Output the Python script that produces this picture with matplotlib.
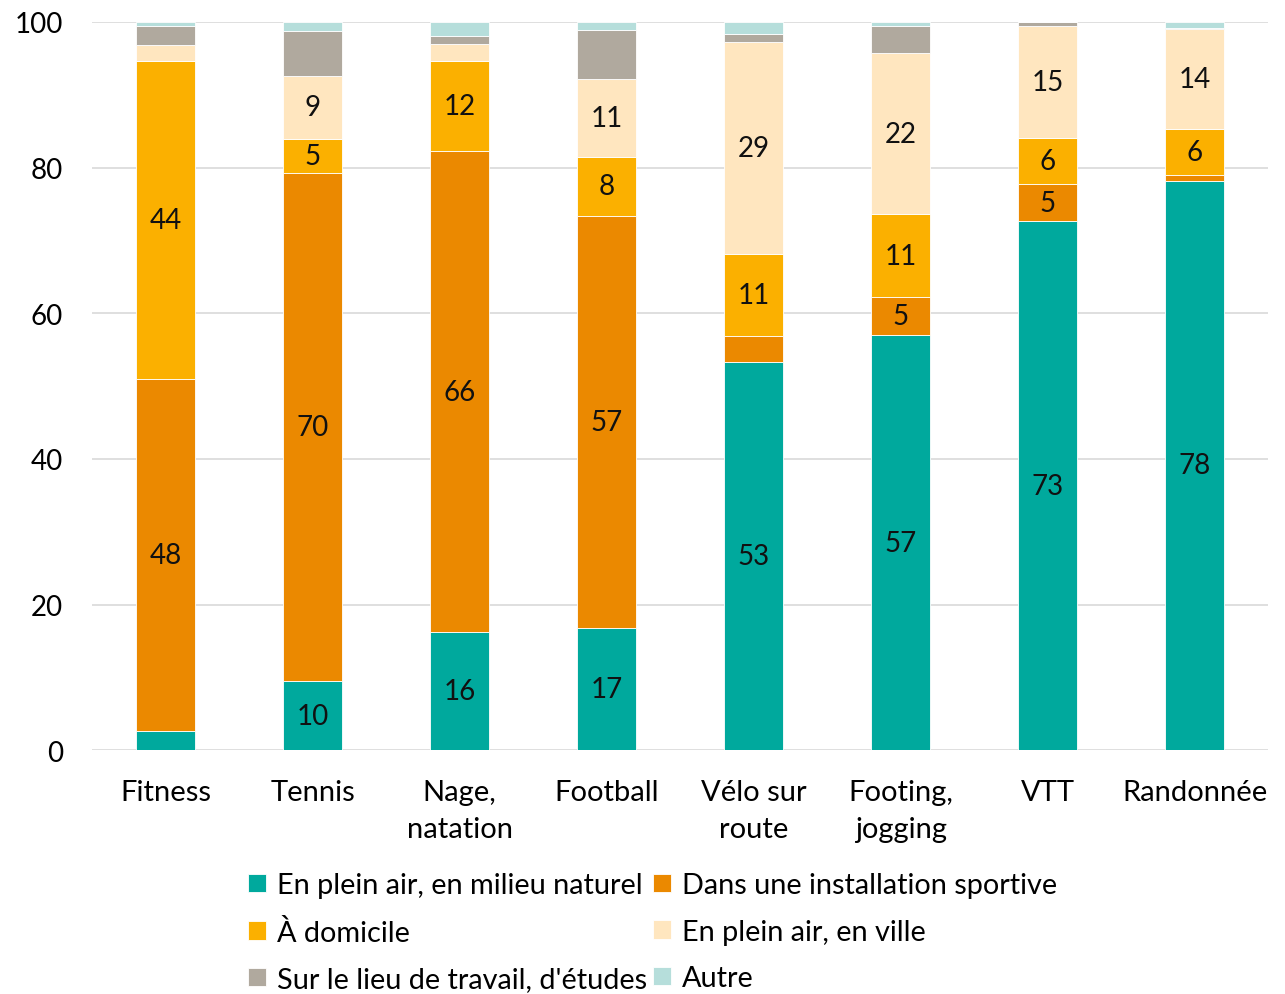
import numpy as np
import matplotlib
matplotlib.use("Agg")
import matplotlib.pyplot as plt

plt.rcParams['font.family'] = ['Lato', 'DejaVu Sans']

categories = ["Fitness", "Tennis", "Nage,\nnatation", "Football",
              "Vélo sur\nroute", "Footing,\njogging", "VTT", "Randonnée"]

series_names = ["En plein air, en milieu naturel", "Dans une installation sportive",
                "À domicile", "En plein air, en ville",
                "Sur le lieu de travail, d'études", "Autre"]

nature = [2.6, 9.5, 16.2, 16.8, 53.3, 57.0, 72.6, 78.2]
installation = [48.4, 69.8, 66.1, 56.6, 3.6, 5.2, 5.2, 0.8]
domicile = [43.6, 4.6, 12.3, 8.1, 11.2, 11.4, 6.2, 6.3]
ville = [2.2, 8.7, 2.4, 10.7, 29.1, 22.1, 15.4, 13.7]
travail = [2.6, 6.1, 1.0, 6.7, 1.1, 3.8, 0.6, 0.2]
autre = [0.6, 1.3, 2.0, 1.1, 1.7, 0.5, 0.0, 0.8]

colors = ["#00A99D", "#EB8900", "#FBB000", "#FFE6BF", "#B0A99E", "#B6DEDB"]
labelled = [True, True, True, True, False, False]

fig = plt.figure(figsize=(12.85, 9.95), dpi=100)
ax = fig.add_axes([0.0716, 0.245, 0.9154, 0.732])

x = np.arange(len(categories))
bottom = np.zeros(len(categories))
handles = []
for vals, name, col, lab in zip([nature, installation, domicile, ville, travail, autre],
                                series_names, colors, labelled):
    vals = np.array(vals)
    bars = ax.bar(x, vals, 0.4, bottom=bottom, color=col, label=name,
                  edgecolor="white", linewidth=0.6, zorder=3)
    handles.append(bars)
    if lab:
        for xi, b, v in zip(x, bottom, vals):
            if v >= 4.5:
                ax.text(xi, b + v / 2, f"{v:.0f}", ha="center", va="center",
                        fontsize=20, color="#111111", zorder=4)
    bottom += vals

ax.set_xlim(-0.5, len(categories) - 0.5)
ax.set_ylim(0, 100)
ax.set_yticks(range(0, 101, 20))
ax.yaxis.grid(True, color="#D9D9D9", linewidth=1.2, zorder=0)
for s in ax.spines.values():
    s.set_visible(False)
ax.tick_params(axis="y", length=0, labelsize=20, pad=21)
ax.tick_params(axis="x", length=0, labelsize=21, pad=21)
ax.set_xticks(x)
ax.set_xticklabels(categories, linespacing=1.5)

# legend filled row by row, like the original
order = [0, 2, 4, 1, 3, 5]
ax.legend([handles[i] for i in order], [series_names[i] for i in order],
          loc="upper left", bbox_to_anchor=(0.133, -0.167), ncol=2, frameon=False,
          fontsize=20.8, handlelength=0.6, handleheight=0.6, handletextpad=0.4,
          columnspacing=0.2, labelspacing=0.72, borderaxespad=0, borderpad=0)

fig.savefig("out.png", dpi=100)
